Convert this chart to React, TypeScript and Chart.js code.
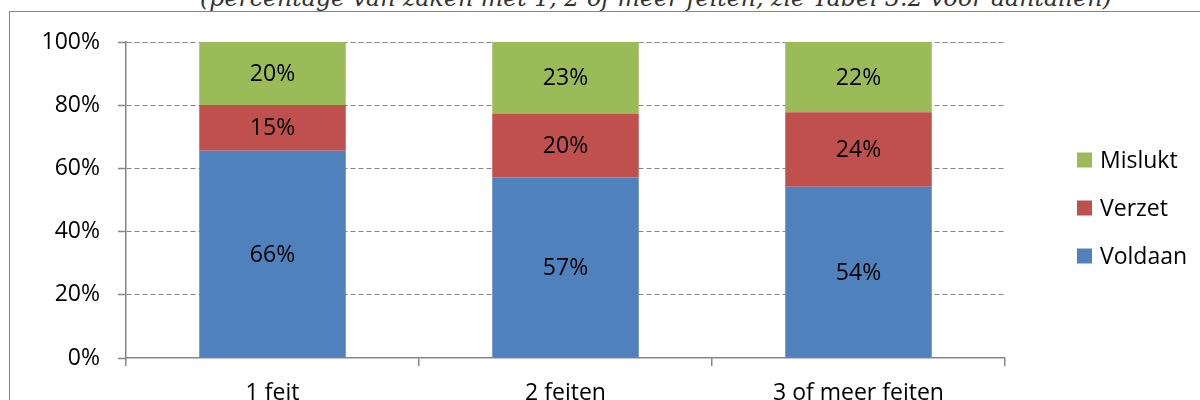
import React, { useEffect, useRef } from "react";
import { Chart, registerables } from "chart.js";

Chart.register(...registerables);

const titleText =
  "(percentage van zaken met 1, 2 of meer feiten, zie Tabel 3.2 voor aantallen)";
const categories = ["1 feit", "2 feiten", "3 of meer feiten"];
const voldaan = [65.6, 57.1, 54.2];
const verzet = [14.5, 20.3, 23.6];
const mislukt = [19.9, 22.6, 22.2];
const seriesNames = ["Voldaan", "Verzet", "Mislukt"];
const seriesColors = ["#4F81BD", "#C0504D", "#9BBB59"];
const yTickValues = [0, 20, 40, 60, 80, 100];

const FONT = "'Open Sans', 'Noto Sans', sans-serif";
const FONT_SIZE = 23;
const AXIS_GREY = "#868686";

const segmentLabels = {
  id: "segmentLabels",
  afterDatasetsDraw(chart: any) {
    const ctx = chart.ctx;
    ctx.save();
    ctx.font = `${FONT_SIZE}px ${FONT}`;
    ctx.fillStyle = "#000";
    ctx.textAlign = "center";
    ctx.textBaseline = "middle";
    chart.data.datasets.forEach((ds: any, i: number) => {
      const meta = chart.getDatasetMeta(i);
      meta.data.forEach((bar: any, j: number) => {
        const p = bar.getProps(["x", "y", "base"], true);
        ctx.fillText(Math.round(ds.data[j]) + "%", p.x, (p.y + p.base) / 2 + 1);
      });
    });
    ctx.restore();
  },
};

const sideLegend = {
  id: "sideLegend",
  afterDraw(chart: any) {
    const ctx = chart.ctx;
    const area = chart.chartArea;
    const boxX = area.right + 72;
    const textX = boxX + 23;
    const spacing = 48;
    const midY = 208;
    const items = chart.data.datasets
      .map((ds: any) => ({ label: ds.label, color: ds.backgroundColor }))
      .reverse();
    ctx.save();
    ctx.font = `${FONT_SIZE}px ${FONT}`;
    ctx.textAlign = "left";
    ctx.textBaseline = "middle";
    items.forEach((it: any, k: number) => {
      const cy = midY + (k - (items.length - 1) / 2) * spacing;
      ctx.fillStyle = it.color;
      ctx.fillRect(boxX, cy - 7.5, 15, 15);
      ctx.fillStyle = "#000";
      ctx.fillText(it.label, textX, cy + 1);
    });
    ctx.restore();
  },
};

export default function App() {
  const canvasRef = useRef<HTMLCanvasElement | null>(null);

  useEffect(() => {
    if (!canvasRef.current) return;
    const seriesData = [voldaan, verzet, mislukt];
    const chart = new Chart(canvasRef.current, {
      type: "bar",
      data: {
        labels: categories,
        datasets: seriesNames.map((name, i) => ({
          label: name,
          data: seriesData[i],
          backgroundColor: seriesColors[i],
          borderWidth: 0,
          categoryPercentage: 1,
          barPercentage: 0.5,
        })),
      },
      options: {
        animation: false,
        responsive: true,
        maintainAspectRatio: false,
        layout: { padding: { left: 0, top: 42, right: 195, bottom: 0 } },
        plugins: {
          legend: { display: false },
          tooltip: { enabled: false },
          title: { display: false },
        },
        scales: {
          x: {
            stacked: true,
            offset: true,
            grid: {
              offset: true,
              drawOnChartArea: false,
              drawTicks: true,
              tickLength: 8,
              color: AXIS_GREY,
              lineWidth: 1.5,
            },
            border: { display: true, color: AXIS_GREY, width: 1.5 },
            ticks: {
              color: "#000",
              font: { family: FONT, size: FONT_SIZE },
              padding: 14,
              maxRotation: 0,
              autoSkip: false,
            },
            afterFit(scale: any) {
              scale.height = 82;
            },
          },
          y: {
            stacked: true,
            min: 0,
            max: 100,
            afterBuildTicks(scale: any) {
              scale.ticks = yTickValues.map((v) => ({ value: v }));
            },
            grid: {
              color: (c: any) =>
                c.tick && c.tick.value === 0 ? "rgba(0,0,0,0)" : AXIS_GREY,
              lineWidth: 1,
              tickBorderDash: [],
              tickColor: AXIS_GREY,
              tickLength: 8,
              tickWidth: 1.5,
              drawTicks: true,
            },
            border: { display: true, color: AXIS_GREY, width: 1.5, dash: [5, 3] },
            ticks: {
              color: "#000",
              font: { family: FONT, size: FONT_SIZE },
              padding: 18,
              callback: (v: any) => v + "%",
            },
            afterFit(scale: any) {
              scale.width = 126;
            },
          },
        },
      },
      plugins: [segmentLabels, sideLegend],
    });
    return () => chart.destroy();
  }, []);

  return (
    <div
      style={{
        position: "fixed",
        left: 0,
        top: 0,
        width: 1200,
        height: 400,
        overflow: "hidden",
        background: "#fff",
      }}
    >
      <div
        style={{
          position: "absolute",
          left: 9,
          top: 11,
          width: 1400,
          height: 600,
          border: `1.5px solid ${AXIS_GREY}`,
          boxSizing: "border-box",
        }}
      />
      <div
        style={{
          position: "absolute",
          left: 200,
          top: -14,
          whiteSpace: "nowrap",
          fontFamily: "'DejaVu Serif', serif",
          fontStyle: "italic",
          fontSize: 23.7,
          lineHeight: "24px",
          color: "#333",
        }}
      >
        {titleText}
      </div>
      <div style={{ position: "absolute", left: 0, top: 0, width: 1200, height: 440 }}>
        <canvas ref={canvasRef} />
      </div>
    </div>
  );
}
